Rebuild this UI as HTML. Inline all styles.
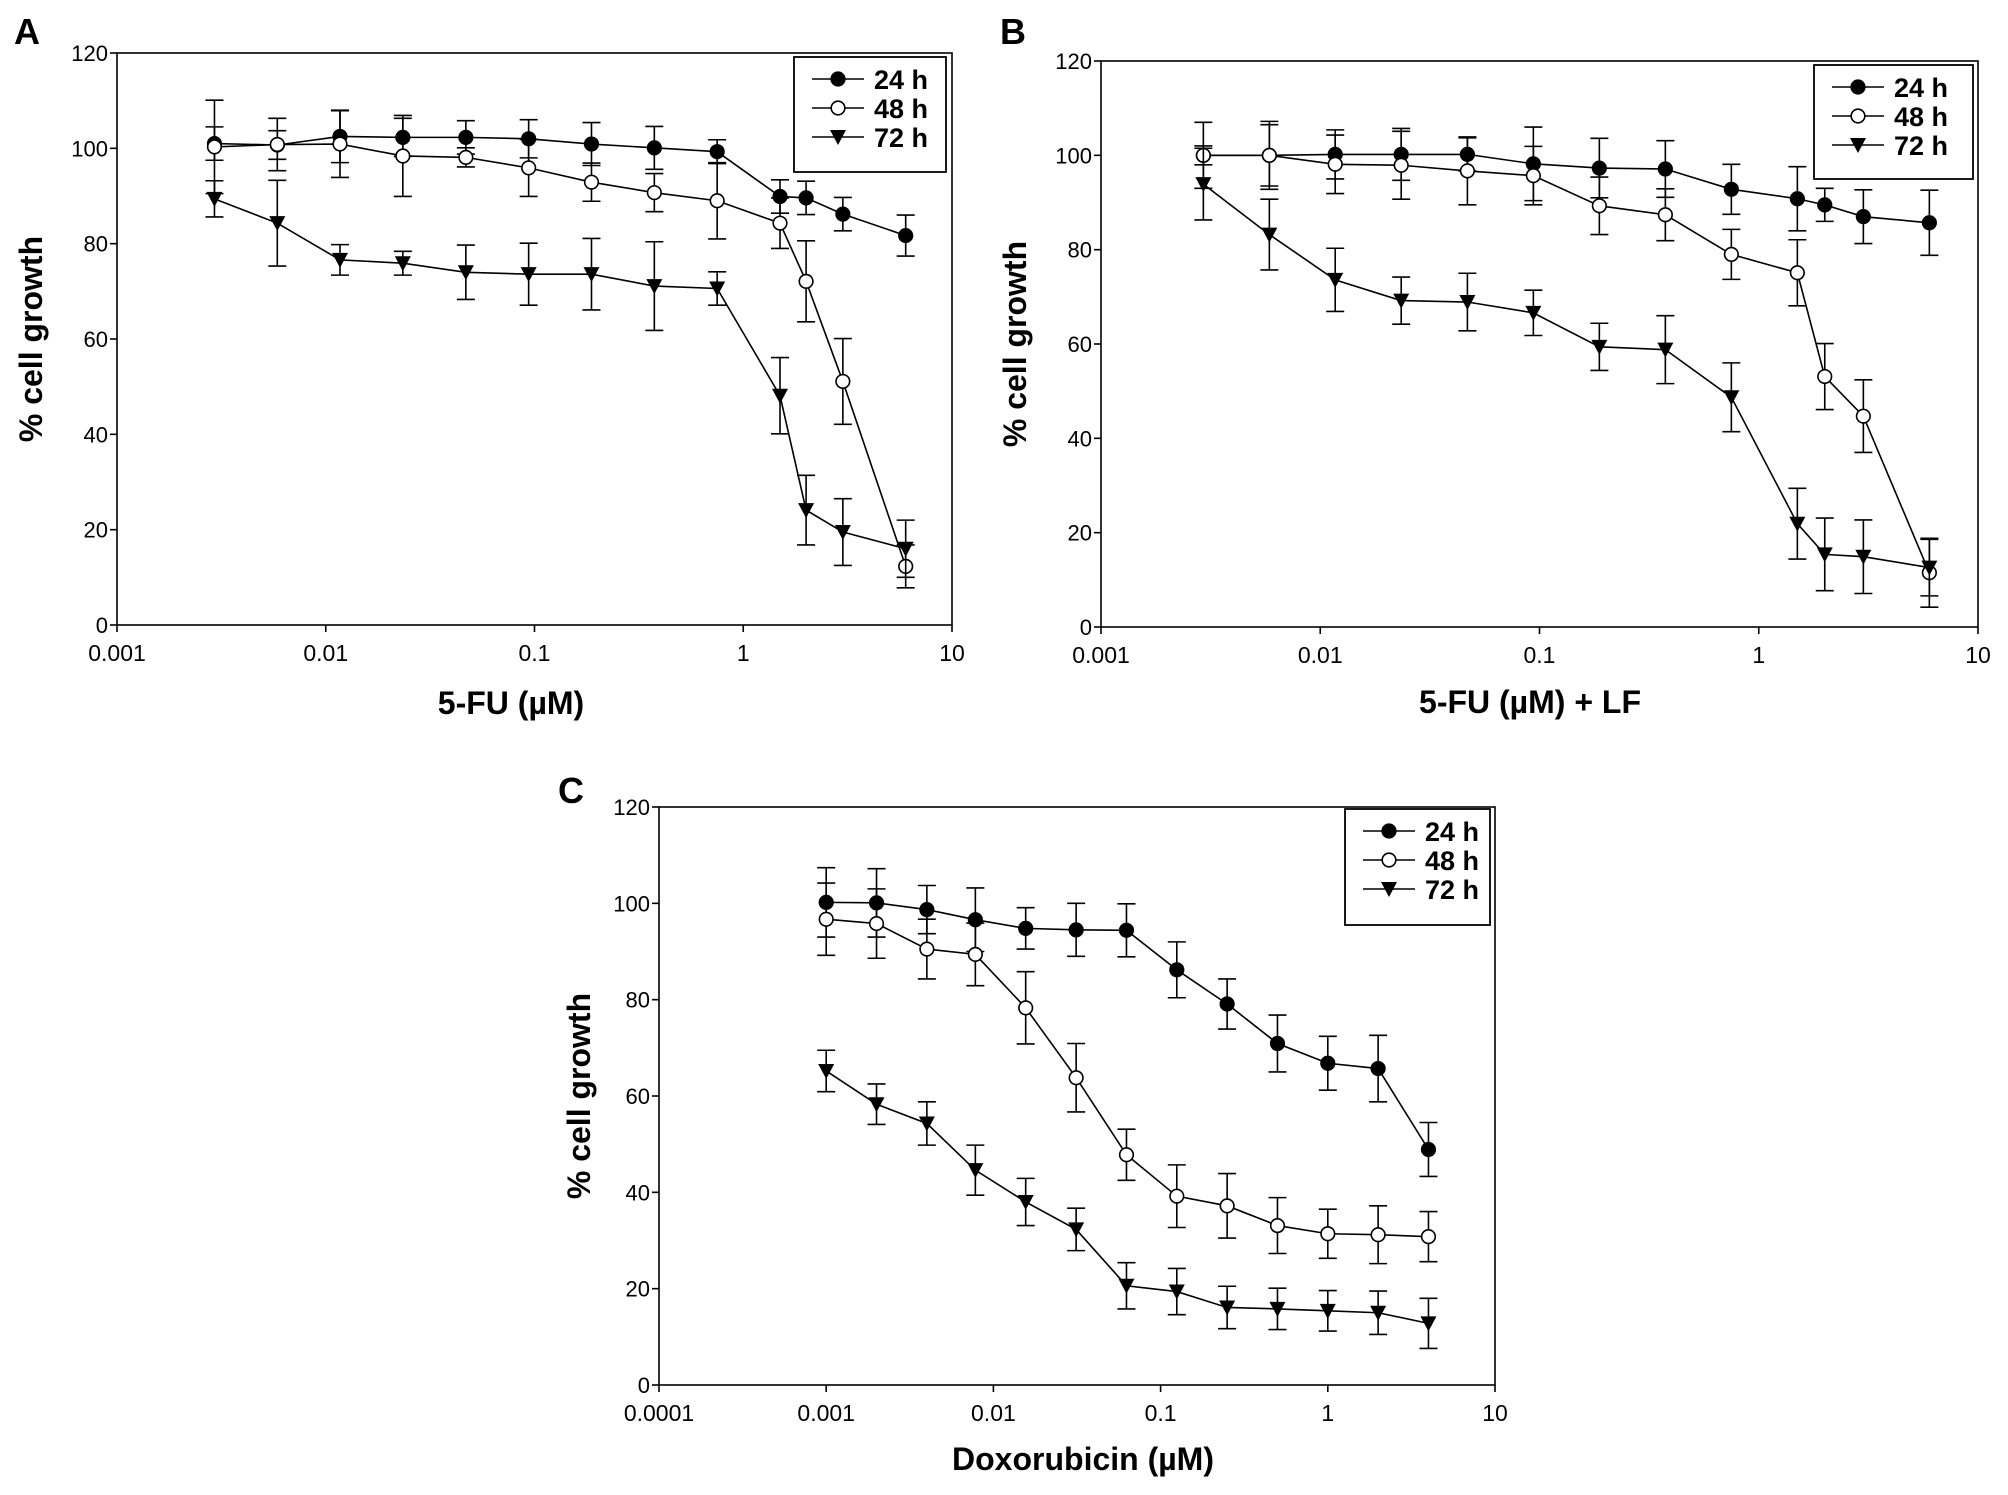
<!DOCTYPE html>
<html><head><meta charset="utf-8">
<style>
html,body{margin:0;padding:0;background:#fff;}
svg{display:block;font-family:"Liberation Sans",Arial,sans-serif;}
</style></head>
<body>
<svg id="fig" width="2008" height="1495" viewBox="0 0 2008 1495" xmlns="http://www.w3.org/2000/svg"></svg>
<script>
// ---- data ----
const xFU = [0.00293,0.00586,0.0117,0.0234,0.0469,0.09375,0.1875,0.375,0.75,1.5,2,3,6];
const xDox = [0.001,0.002,0.004,0.0078,0.0156,0.03125,0.0625,0.125,0.25,0.5,1,2,4];
const seriesNames = ["24 h","48 h","72 h"];
const yTicks = [0,20,40,60,80,100,120];
const xTicksFU = [0.001,0.01,0.1,1,10];
const xTickLabelsFU = ["0.001","0.01","0.1","1","10"];
const xTicksDox = [0.0001,0.001,0.01,0.1,1,10];
const xTickLabelsDox = ["0.0001","0.001","0.01","0.1","1","10"];

const A24 = [101,100.7,102.5,102.3,102.3,102,100.9,100.1,99.3,89.9,89.6,86.2,81.7];
const A24e = [3.5,3,5.5,4,3.5,4,4.5,4.5,2.5,3.5,3.5,3.5,4.3];
const A48 = [100.3,100.8,100.9,98.4,98.1,95.9,92.9,90.7,89,84.3,72.1,51.1,12.3];
const A48e = [9.8,5.5,7,8.5,2,6,4,4,8,5.3,8.5,9,4.5];
const A72 = [89.4,84.3,76.6,75.9,74,73.6,73.6,71.1,70.6,48.1,24.1,19.5,16];
const A72e = [3.8,9,3.2,2.5,5.7,6.5,7.5,9.3,3.5,8,7.3,7,6];

const B24 = [100,100,100.2,100.2,100.2,98.2,97.3,97.1,92.8,90.8,89.5,87,85.7];
const B24e = [7,7.2,5.2,5.5,3.5,7.8,6.3,6,5.3,6.8,3.5,5.7,6.9];
const B48 = [100,100,98.1,97.9,96.7,95.7,89.3,87.4,79,75.1,53.1,44.7,11.5];
const B48e = [2,6.5,6.2,7.2,7.2,6.2,6.1,5.5,5.3,7,7,7.7,7.3];
const B72 = [93.9,83.2,73.6,69.2,68.9,66.6,59.4,58.8,48.7,21.9,15.4,14.9,12.6];
const B72e = [7.6,7.5,6.7,5,6.1,4.8,5,7.2,7.3,7.5,7.7,7.8,6];

const C24 = [100.2,100.1,98.7,96.6,94.8,94.5,94.4,86.2,79.1,70.9,66.8,65.7,48.9];
const C24e = [7.2,7.1,5,6.6,4.3,5.5,5.5,5.8,5.2,5.9,5.6,6.9,5.6];
const C48 = [96.7,95.8,90.5,89.4,78.3,63.8,47.8,39.2,37.2,33.1,31.4,31.2,30.8];
const C48e = [7.5,7.2,6.2,6.5,7.5,7.1,5.3,6.5,6.7,5.8,5.1,6,5.2];
const C72 = [65.2,58.3,54.3,44.6,38,32.3,20.6,19.4,16.1,15.8,15.4,15,12.8];
const C72e = [4.3,4.2,4.5,5.2,4.9,4.4,4.8,4.8,4.4,4.3,4.2,4.5,5.2];

const NS = "http://www.w3.org/2000/svg";
const svg = document.getElementById('fig');
function mk(tag, attrs, parent){
  const e = document.createElementNS(NS, tag);
  for (const k in attrs) e.setAttribute(k, attrs[k]);
  (parent||svg).appendChild(e);
  return e;
}

function panel(p){
  const g = mk('g', {});
  
  
  const lx0 = Math.log10(p.xmin), lx1 = Math.log10(p.xmax);
  const xs = v => p.L + (Math.log10(v) - lx0) / (lx1 - lx0) * (p.R - p.L);
  const ys = v => p.B - v / 120 * (p.B - p.T);

  const lab = mk('text', {x:p.labX, y:p.labY, 'font-size':36, 'font-weight':'bold', fill:'#000'}, g);
  lab.textContent = p.id.toUpperCase();
  
  

  const frame = mk('rect', {x:p.L, y:p.T, width:p.R-p.L, height:p.B-p.T, fill:'none', stroke:'#000', 'stroke-width':1.6}, g);
  
  

  yTicks.forEach(t => {
    const y = ys(t);
    const tk = mk('line', {x1:p.L-7, x2:p.L, y1:y, y2:y, stroke:'#000', 'stroke-width':1.6}, g);
    
    
    const tl = mk('text', {x:p.L-9, y:y+8, 'font-size':22, 'text-anchor':'end', fill:'#000'}, g);
    tl.textContent = t;
    
    
  });
  p.xt.forEach((t,i) => {
    const x = xs(t);
    const tk = mk('line', {x1:x, x2:x, y1:p.B, y2:p.B+7, stroke:'#000', 'stroke-width':1.6}, g);
    
    
    const tl = mk('text', {x:x, y:p.B+36, 'font-size':23, 'text-anchor':'middle', fill:'#000'}, g);
    tl.textContent = p.xl[i];
    
    
  });

  const yt = mk('text', {x:0, y:0, 'font-size':32, 'font-weight':'bold', 'text-anchor':'middle', transform:`translate(${p.ytX},${(p.T+p.B)/2}) rotate(-90)`, fill:'#000'}, g);
  yt.textContent = '% cell growth';
  
  
  const xt = mk('text', {x:p.xtX, y:p.xtY, 'font-size':32, 'font-weight':'bold', 'text-anchor':'middle', fill:'#000'}, g);
  xt.textContent = p.xtitle;
  
  

  const styles = ['filled','open','tri'];
  function marker(par, x, y, s){
    let m;
    if (s === 'tri') m = mk('polygon', {points:`${x-8},${y-7} ${x+8},${y-7} ${x},${y+8}`, fill:'#000'}, par);
    else m = mk('circle', {cx:x, cy:y, r:6.8, fill: s==='filled' ? '#000' : '#fff', stroke:'#000', 'stroke-width':1.6}, par);
    return m;
  }
  p.series.forEach((sv, si) => {
    const sg = mk('g', {}, g);
    
    
    const vals = sv[0], errs = sv[1];
    vals.forEach((v,i) => {
      const x = xs(p.x[i]);
      const y1 = ys(v+errs[i]), y2 = ys(v-errs[i]);
      const eb = mk('path', {d:`M${x},${y1}V${y2}M${x-9},${y1}H${x+9}M${x-9},${y2}H${x+9}`, stroke:'#000', 'stroke-width':1.6, fill:'none'}, sg);
      
      
    });
    const pts = vals.map((v,i) => xs(p.x[i]) + ',' + ys(v)).join(' ');
    const ln = mk('polyline', {points:pts, fill:'none', stroke:'#000', 'stroke-width':1.6}, sg);
    
    
    vals.forEach((v,i) => {
      const m = marker(sg, xs(p.x[i]), ys(v), styles[si]);
      
      
    });
  });

  const lg = mk('g', {}, g);
  
  
  mk('rect', {x:p.lg[0], y:p.lg[1], width:p.lg[2], height:p.lg[3], fill:'#fff', stroke:'#000', 'stroke-width':1.8}, lg);
  seriesNames.forEach((n, si) => {
    const cy = p.lg[1] + 22 + si * 29;
    const lx = p.lg[0] + 18;
    const le = mk('g', {}, lg);
    
    
    mk('line', {x1:lx, x2:lx+52, y1:cy, y2:cy, stroke:'#000', 'stroke-width':1.6}, le);
    marker(le, lx+26, cy, styles[si]);
    const t = mk('text', {x:lx+62, y:cy+10, 'font-size':27, 'font-weight':'bold', fill:'#000'}, le);
    t.textContent = n;
  });
}

panel({id:'a', L:117, R:952, T:53, B:625, xmin:0.001, xmax:10, xt:xTicksFU, xl:xTickLabelsFU, x:xFU,
  series:[[A24,A24e],[A48,A48e],[A72,A72e]], labX:14, labY:44, ytX:42, xtX:511, xtY:714, xtitle:'5-FU (µM)', lg:[794,57,152,115]});
panel({id:'b', L:1101, R:1978, T:61, B:627, xmin:0.001, xmax:10, xt:xTicksFU, xl:xTickLabelsFU, x:xFU,
  series:[[B24,B24e],[B48,B48e],[B72,B72e]], labX:1000, labY:44, ytX:1026, xtX:1530, xtY:713, xtitle:'5-FU (µM) + LF', lg:[1814,65,159,114]});
panel({id:'c', L:659, R:1495, T:807, B:1385, xmin:0.0001, xmax:10, xt:xTicksDox, xl:xTickLabelsDox, x:xDox,
  series:[[C24,C24e],[C48,C48e],[C72,C72e]], labX:558, labY:803, ytX:590, xtX:1083, xtY:1470, xtitle:'Doxorubicin (µM)', lg:[1345,809,145,116]});
</script>
</body></html>
